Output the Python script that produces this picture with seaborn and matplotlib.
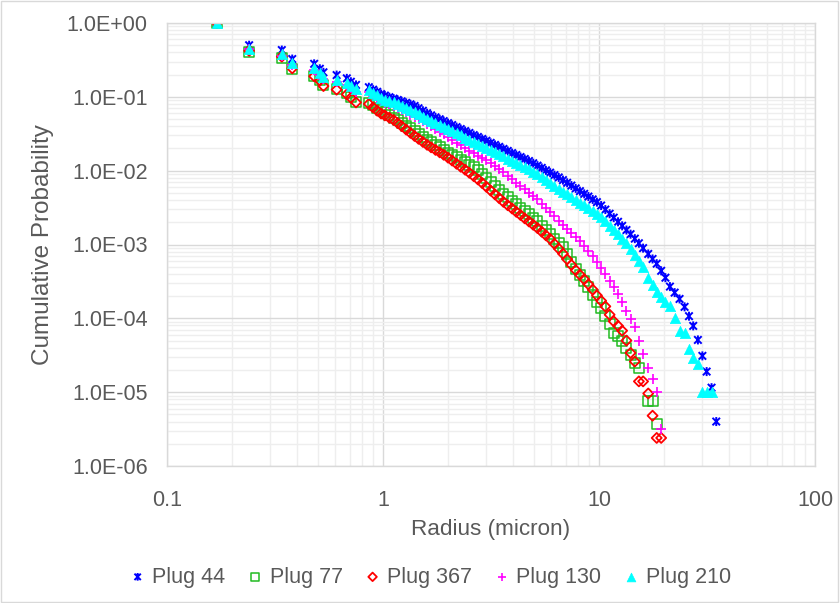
import numpy as np
import pandas as pd
import matplotlib
matplotlib.use("Agg")
import matplotlib.pyplot as plt
from matplotlib.path import Path
from matplotlib.patches import Rectangle
from matplotlib.ticker import FixedLocator, FuncFormatter, LogLocator, NullFormatter
import seaborn as sns

# radius values (micron), shared by all plugs
radius = [0.17, 0.24, 0.34, 0.38, 0.48, 0.51, 0.53, 0.61, 0.68, 0.71, 0.75, 0.86,
          0.90, 0.94, 0.98, 1.02, 1.07, 1.12, 1.17, 1.22, 1.28, 1.34,
          1.40, 1.46, 1.53, 1.60, 1.67, 1.75, 1.83, 1.91, 2.00, 2.09,
          2.19, 2.29, 2.40, 2.51, 2.63, 2.75, 2.88, 3.01, 3.15, 3.30,
          3.45, 3.61, 3.78, 3.96, 4.14, 4.33, 4.53, 4.74, 4.96, 5.19,
          5.43, 5.68, 5.94, 6.22, 6.51, 6.81, 7.12, 7.45, 7.80, 8.16,
          8.54, 8.93, 9.35, 9.78, 10.23, 10.7, 11.2, 11.7, 12.25, 12.8,
          13.4, 14.0, 14.65, 15.3, 16.0, 16.9, 17.7, 18.5, 19.4, 20.3,
          21.3, 22.4, 23.6, 24.9, 26.1, 27.3, 28.7, 30.1, 31.5, 33.2,
          34.9]

plug_44 = [1.0, 0.50, 0.43, 0.325, 0.28, 0.24, 0.215, 0.197, 0.178, 0.16, 0.145, 0.135,
           0.125, 0.117, 0.109, 0.104, 0.0989, 0.0945, 0.0906, 0.0869, 0.0828, 0.0792,
           0.0752, 0.0700, 0.0648, 0.0600, 0.0561, 0.0527, 0.0497, 0.0469, 0.0440, 0.0415,
           0.0389, 0.0366, 0.0344, 0.0324, 0.0303, 0.0286, 0.0269, 0.0254, 0.0238, 0.0223,
           0.0210, 0.0197, 0.0185, 0.0173, 0.0163, 0.0153, 0.0144, 0.0135, 0.0126, 0.0117,
           0.0109, 0.0101, 0.0094, 0.0087, 0.0081, 0.00745, 0.00685, 0.00628, 0.00575, 0.00528,
           0.00485, 0.00446, 0.00408, 0.00375, 0.00337, 0.00297, 0.00261, 0.00231, 0.00203, 0.00179,
           0.00157, 0.00138, 0.00120, 0.00104, 0.000893, 0.000745, 0.000637, 0.00055, 0.00044, 0.000355,
           0.000269, 0.000223, 0.000183, 0.000143, 0.000107, 7.9e-5, 5.1e-5, 3.1e-5, 1.9e-5, 1.15e-5,
           4.0e-6]

plug_77 = [1.0, 0.41, 0.34, 0.236, 0.193, 0.169, 0.144, 0.128, 0.112, 0.099, 0.086, 0.082,
           0.0764, 0.0713, 0.0667, 0.0622, 0.0569, 0.0523, 0.0482, 0.0447, 0.0408, 0.0375,
           0.0345, 0.0316, 0.0288, 0.0263, 0.0243, 0.0223, 0.0206, 0.0191, 0.0175, 0.0163,
           0.0151, 0.0140, 0.0130, 0.0121, 0.0111, 0.0102, 0.00902, 0.00800, 0.00706, 0.00621,
           0.00551, 0.00486, 0.00436, 0.00390, 0.00351, 0.00315, 0.00283, 0.00255, 0.00229, 0.00205,
           0.00180, 0.00157, 0.00138, 0.00120, 0.00105, 0.000920, 0.000735, 0.000581, 0.000471, 0.000391,
           0.000324, 0.000269, 0.000206, 0.000168, 0.000139, 0.000108, 8.3e-5, 6.4e-5, 5.8e-5, 5.0e-5,
           4.0e-5, 3.2e-5, 2.45e-5, 2.1e-5, None, 7.5e-6, 7.5e-6, 3.7e-6, None, None,
           None, None, None, None, None, None, None, None, None, None,
           None]

plug_367 = [1.0, 0.42, 0.35, 0.243, 0.19, 0.165, 0.14, 0.125, 0.108, 0.097, 0.084, 0.080,
            0.0719, 0.0649, 0.0594, 0.0560, 0.0521, 0.0486, 0.0441, 0.0401, 0.0360, 0.0325,
            0.0295, 0.0270, 0.0245, 0.0224, 0.0207, 0.0191, 0.0177, 0.0164, 0.0150, 0.0137,
            0.0124, 0.0113, 0.0103, 0.00935, 0.00843, 0.00761, 0.00679, 0.00605, 0.00538, 0.00477,
            0.00425, 0.00378, 0.00340, 0.00307, 0.00277, 0.00251, 0.00226, 0.00205, 0.00185, 0.00167,
            0.00149, 0.00133, 0.00119, 0.00102, 0.000877, 0.000750, 0.000631, 0.000529, 0.000450, 0.000389,
            0.000338, 0.000289, 0.000245, 0.000204, 0.000173, 0.000145, 0.000112, 9.1e-5, 7.9e-5, 6.8e-5,
            5.0e-5, 3.4e-5, 2.6e-5, 1.4e-5, 1.4e-5, 9.6e-6, 4.8e-6, 2.4e-6, 2.4e-6, None,
            None, None, None, None, None, None, None, None, None, None,
            None]

plug_130 = [1.0, 0.44, 0.36, 0.27, 0.23, 0.195, 0.175, 0.158, 0.145, 0.13, 0.118, 0.115,
            0.107, 0.097, 0.0889, 0.0834, 0.0793, 0.0755, 0.0705, 0.0661, 0.0614, 0.0572,
            0.0535, 0.0501, 0.0467, 0.0435, 0.0401, 0.0366, 0.0337, 0.0310, 0.0284, 0.0261,
            0.0239, 0.0220, 0.0201, 0.0185, 0.0171, 0.0160, 0.0149, 0.0139, 0.0128, 0.0115,
            0.0105, 0.00949, 0.00853, 0.00766, 0.00690, 0.00622, 0.00560, 0.00504, 0.00454, 0.00407,
            0.00357, 0.00314, 0.00275, 0.00241, 0.00211, 0.00185, 0.00163, 0.00143, 0.00125, 0.00110,
            0.000944, 0.000810, 0.000689, 0.000586, 0.000486, 0.000397, 0.000324, 0.000266, 0.000213, 0.000164,
            0.000125, 9.8e-5, 7.6e-5, 4.9e-5, 3.3e-5, 2.1e-5, 1.5e-5, 1.0e-5, 3.2e-6, None,
            None, None, None, None, None, None, None, None, None, None,
            None]

plug_210 = [1.0, 0.45, 0.377, 0.284, 0.243, 0.208, 0.187, 0.169, 0.155, 0.14, 0.127, 0.124,
            0.114, 0.105, 0.097, 0.092, 0.0887, 0.0855, 0.0801, 0.0754, 0.0702, 0.0656,
            0.0615, 0.0578, 0.0540, 0.0506, 0.0475, 0.0445, 0.0416, 0.0391, 0.0366, 0.0343,
            0.0321, 0.0301, 0.0281, 0.0263, 0.0247, 0.0232, 0.0218, 0.0205, 0.0192, 0.0179,
            0.0168, 0.0156, 0.0146, 0.0136, 0.0127, 0.0119, 0.0111, 0.0104, 0.0097, 0.00904,
            0.00823, 0.00750, 0.00684, 0.00621, 0.00565, 0.00518, 0.00476, 0.00437, 0.00401, 0.00368,
            0.00338, 0.00310, 0.00285, 0.00262, 0.00235, 0.00205, 0.00179, 0.00157, 0.00137, 0.00120,
            0.00105, 0.000873, 0.000723, 0.000604, 0.000500, 0.000347, 0.000281, 0.000229, 0.000195, 0.000167,
            0.000145, 0.0001, 6.8e-5, 6.3e-5, 3.8e-5, 2.9e-5, 2.4e-5, 1.0e-5, 1.0e-5, 1.0e-5,
            None]

series_names = ["Plug 44", "Plug 77", "Plug 367", "Plug 130", "Plug 210"]
x_ticks = [0.1, 1, 10, 100]
y_ticks = [1e-6, 1e-5, 1e-4, 1e-3, 1e-2, 1e-1, 1e0]

df = pd.DataFrame({"radius": radius, "Plug 44": plug_44, "Plug 77": plug_77,
                   "Plug 367": plug_367, "Plug 130": plug_130, "Plug 210": plug_210})
long_df = df.melt(id_vars="radius", var_name="plug", value_name="prob")
long_df["prob"] = pd.to_numeric(long_df["prob"])
long_df = long_df.dropna()

# excel-like "star" marker: an x with a vertical bar
star = Path([(-1, -1), (1, 1), (-1, 1), (1, -1), (0, -1.2), (0, 1.2)],
            [Path.MOVETO, Path.LINETO, Path.MOVETO, Path.LINETO, Path.MOVETO, Path.LINETO])

styles = {
    "Plug 44": dict(marker=star, color="#0000ff", facecolor="none", edgecolor="#0000ff", s=42, linewidth=1.4),
    "Plug 77": dict(marker="s", color="#22bb22", facecolor="none", edgecolor="#22bb22", s=52, linewidth=1.1),
    "Plug 367": dict(marker="D", color="#ff0000", facecolor="none", edgecolor="#ff0000", s=26, linewidth=1.3),
    "Plug 130": dict(marker="+", color="#ff00ff", s=50, linewidth=1.2),
    "Plug 210": dict(marker="^", color="#00ffff", edgecolor="#00ffff", s=55, linewidth=0.5),
}

sns.set_theme(style="white")
plt.rcParams["font.family"] = ["Liberation Sans", "DejaVu Sans"]
text_color = "#595959"

fig = plt.figure(figsize=(8.4, 6.03), dpi=100)
ax = fig.add_axes([167 / 840, 1 - 466 / 603, (815 - 167) / 840, (466 - 23) / 603])

for name in series_names:
    sub = long_df[long_df["plug"] == name]
    sns.scatterplot(data=sub, x="radius", y="prob", ax=ax, label=name, legend=False, **styles[name])

ax.set_xscale("log")
ax.set_yscale("log")
ax.set_xlim(0.1, 100)
ax.set_ylim(1e-6, 1)

ax.xaxis.set_major_locator(FixedLocator(x_ticks))
ax.yaxis.set_major_locator(FixedLocator(y_ticks))
ax.xaxis.set_major_formatter(FuncFormatter(lambda v, p: f"{v:g}"))
ax.yaxis.set_major_formatter(FuncFormatter(lambda v, p: f"{v:.1E}"))
ax.xaxis.set_minor_locator(LogLocator(base=10, subs=np.arange(2, 10)))
ax.yaxis.set_minor_locator(LogLocator(base=10, subs=np.arange(2, 10)))
ax.xaxis.set_minor_formatter(NullFormatter())
ax.yaxis.set_minor_formatter(NullFormatter())

ax.grid(which="major", color="#d9d9d9", linewidth=1.0)
ax.grid(which="minor", color="#eeeeee", linewidth=1.0)
ax.set_axisbelow(True)
for sp in ax.spines.values():
    sp.set_color("#d9d9d9")
    sp.set_linewidth(1.0)

ax.tick_params(which="both", length=0, labelsize=15.5, labelcolor=text_color, pad=14)
ax.tick_params(axis="x", which="both", pad=17)
ax.set_xlabel("Radius (micron)", fontsize=16.2, color=text_color, labelpad=6)
ax.set_ylabel("Cumulative Probability", fontsize=17.5, color=text_color, labelpad=9)

handles, labels = ax.get_legend_handles_labels()
fig.legend(handles, labels, loc="center", bbox_to_anchor=(431 / 840, 1 - 577 / 603), ncol=5,
           frameon=False, fontsize=15.5, labelcolor=text_color, handlelength=0.6,
           handletextpad=0.37, columnspacing=1.09, markerscale=0.85)

fig.patches.append(Rectangle((0.001, 0.002), 0.997, 0.996, transform=fig.transFigure,
                             fill=False, edgecolor="#d9d9d9", linewidth=1.0))

fig.savefig("out.png", dpi=100)
